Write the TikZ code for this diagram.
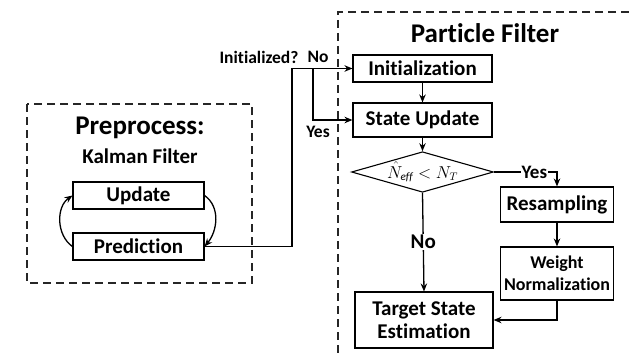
\documentclass[tikz,border=0pt]{standalone}
\usepackage{fontspec}
\setmainfont{Carlito}[Ligatures={NoCommon}]
\usepackage{tikz}
\usetikzlibrary{shapes.geometric, arrows.meta, positioning, calc}

\begin{document}
\begin{tikzpicture}[
  x=1pt, y=-1pt,
  every node/.style={font=\bfseries},
  blk/.style={rectangle, draw=black, line width=1.1pt, fill=white,
              align=center, inner sep=0pt, font=\fontsize{21}{23}\selectfont\bfseries},
  title/.style={font=\fontsize{27}{29}\selectfont\bfseries, align=center},
  lbl/.style={font=\fontsize{17.5}{19}\selectfont\bfseries, inner sep=1pt},
  frame/.style={draw=black!85, dashed, dash pattern=on 8pt off 5pt, line width=1.2pt},
  link/.style={-{Stealth[length=8pt, width=6.5pt]}, line width=1.3pt}
]
  \useasboundingbox (0,0) rectangle (629,353);

  % dashed frames
  \draw[frame] (27,104) rectangle (252,283);
  \draw[frame] (629,12) -| (338,353);

  \node[title] (pretitle) at (140,128) {Preprocess:};
  \node[title, font=\fontsize{21}{23}\selectfont\bfseries] (kftitle) at (140,156) {Kalman Filter};
  \node[title] (pftitle) at (485,33) {Particle Filter};

  % Kalman filter loop
  \node[blk, minimum width=131pt, minimum height=27pt] (update) at (138.5,195.5) {Update};
  \node[blk, minimum width=131pt, minimum height=27pt] (predict) at (138.5,246.5) {Prediction};

  % particle filter chain
  \node[blk, minimum width=139pt, minimum height=27pt] (init) at (422.5,68.5) {Initialization};
  \node[blk, minimum width=139pt, minimum height=34pt] (stup) at (422.5,120) {State Update};
  \node[diamond, draw=black, line width=1.1pt, aspect=3.5, inner sep=0pt,
        minimum width=139pt, minimum height=40pt] (check) at (422.5,172)
    {\fontsize{16}{18}\selectfont$\hat{N}_{\mathit{eff}} < N_{T}$};
  \node[blk, minimum width=113pt, minimum height=35pt] (resamp) at (557,204.5) {Resampling};
  \node[blk, minimum width=113pt, minimum height=53pt,
        font=\fontsize{18}{22}\selectfont\bfseries] (weight) at (557,273.5) {Weight\\Normalization};
  \node[blk, minimum width=138pt, minimum height=56pt] (target) at (424,320) {Target State\\Estimation};

  \node[lbl] (askinit) at (259,57) {Initialized?};
  \node[lbl] (nolbl) at (318,57) {No};
  \node[lbl] (yeslbl) at (318,132) {Yes};

  \coordinate (turn) at (292,68.5);
  \coordinate (fork) at (313,68.5);

  \draw[link] (update.east) to[out=-35, in=50] (predict.east);
  \draw[link] (predict.west) to[out=145, in=215] (update.west);

  \draw[link] (predict.east) -| (turn) -- (init.west);
  \draw[link] (fork) |- (stup.west);

  \draw[link] (init) -- (stup);
  \draw[link] (stup) -- (check);
  \draw[link] (check.south) -- node[lbl, fill=white, font=\fontsize{21}{23}\selectfont\bfseries] (nobranch) {No} (target.north);
  \draw[link] (check.east) -| node[lbl, fill=white, pos=0.32, font=\fontsize{19}{21}\selectfont\bfseries] (yesbranch) {Yes} (resamp.north);
  \draw[link] (resamp) -- (weight);
  \draw[link] (weight.south) |- (target.east);
\end{tikzpicture}
\end{document}
